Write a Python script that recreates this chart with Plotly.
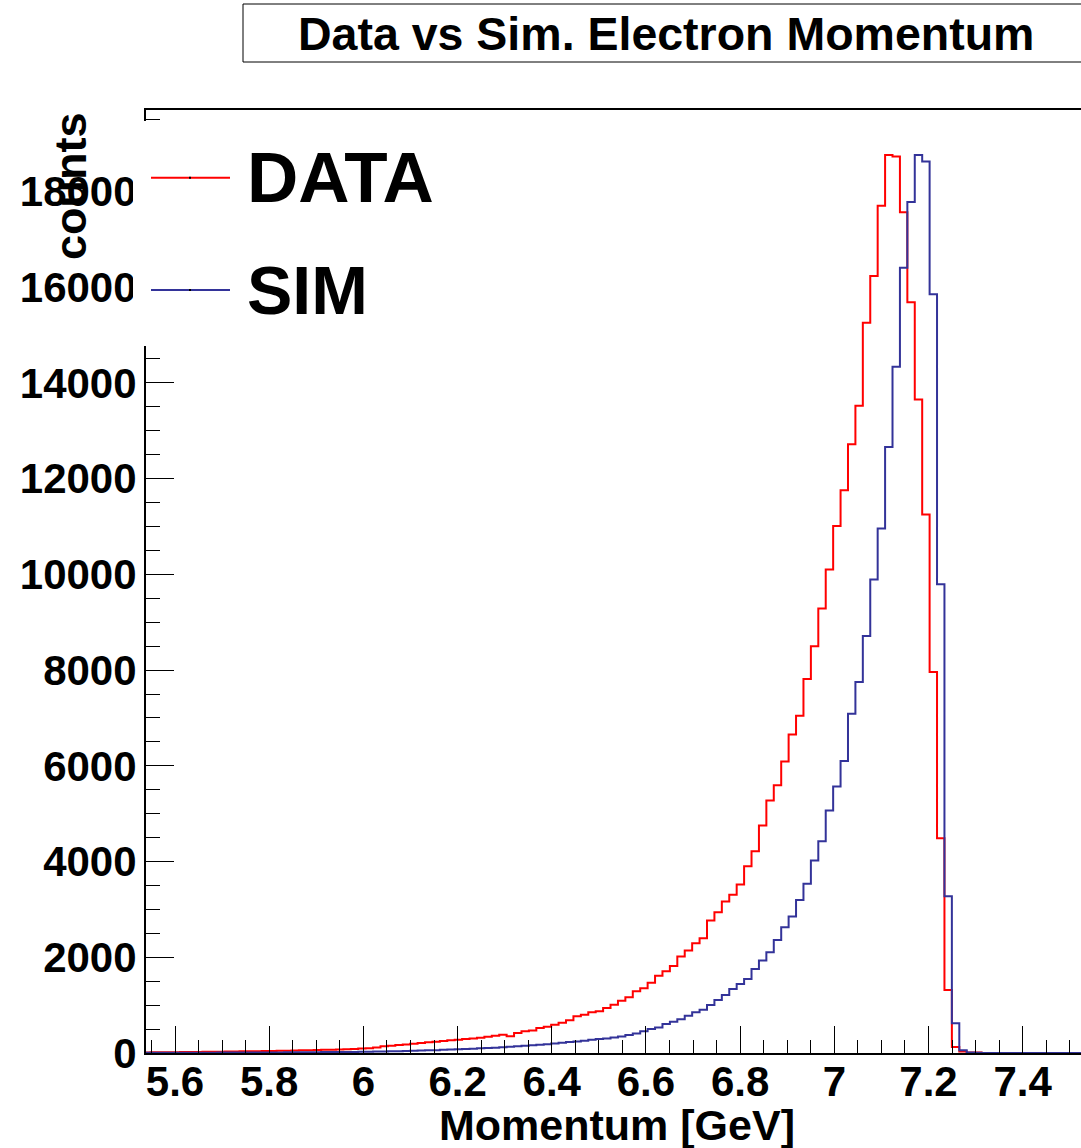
import plotly.graph_objects as go

# ---------------- data ----------------
BIN_START = 5.5321      # GeV, left edge of first bin
BIN_WIDTH = 0.015757    # GeV

data_counts = [
    12, 14, 15, 16, 18, 19, 20, 22, 24, 26, 28,
    30, 32, 34, 36, 38, 40, 43, 46, 49, 52, 55, 58, 62,
    66, 70, 75, 80, 86, 92, 100, 115,
    139, 150, 165, 180, 195, 210, 223, 235, 250, 265, 279, 290, 305, 320, 340,
    360, 383, 348, 418, 453, 470, 523, 550, 592, 630, 683, 767, 801, 850, 870, 940,
    1010, 1094, 1163, 1288, 1351, 1470, 1616, 1706, 1819, 2014, 2139, 2292, 2397,
    2766, 2940, 3164, 3304, 3519, 3902, 4216, 4753, 5276, 5596, 6091, 6656, 7047,
    7812, 8496, 9284, 10100, 11011, 11758, 12720, 13521, 15256, 16233, 17703,
    18763, 18727, 17564, 15683, 13654, 11250, 7958, 4487, 1317, 125, 30, 12, 8,
    0, 0, 0, 0, 0, 0, 0, 0, 0, 0, 0, 0, 0, 0,
]

sim_counts = [
    4, 4, 5, 5, 5, 6, 6, 6, 7, 7, 8, 8, 9, 9, 10, 10, 11, 12, 13,
    14, 15, 16, 17, 18, 19, 20, 21, 22, 23, 25,
    27, 29, 32, 35, 38, 42, 46, 50, 55, 60,
    66, 72, 78, 84, 90, 97, 104, 112, 120, 130,
    140, 150, 160, 172, 185, 198, 212, 228, 242, 258,
    275, 293, 305, 326, 347, 376, 410, 452, 502,
    535, 606, 654, 703, 780, 849, 905, 1004, 1108, 1213,
    1338, 1443, 1547, 1756, 1930, 2104, 2363, 2626, 2850, 3199,
    3534, 4021, 4425, 5066, 5568, 6098, 7088, 7749, 8711, 9890,
    10957, 12663, 14336, 16406, 17780, 18763, 18623, 15850, 9792, 3275,
    619, 55, 8, 3,
    0, 0, 0, 0, 0, 0, 0, 0, 0, 0, 0, 0, 0, 0,
]

x_tick_vals = [5.6, 5.8, 6.0, 6.2, 6.4, 6.6, 6.8, 7.0, 7.2, 7.4]
x_tick_text = ["5.6", "5.8", "6", "6.2", "6.4", "6.6", "6.8", "7", "7.2", "7.4"]
y_tick_vals = [0, 2000, 4000, 6000, 8000, 10000, 12000, 14000, 16000, 18000]
y_tick_text = [str(v) for v in y_tick_vals]

series_names = ["DATA", "SIM"]
series_colors = ["#ff0000", "#333399"]

assert len(data_counts) == len(sim_counts)

# ---------------- geometry helpers ----------------
W, H = 1081, 1148
L, T, B = 146, 110, 95
PW = W - L
PH = H - T - B


def px(xp):
    return (xp - L) / PW


def py(yp):
    return (H - B - yp) / PH


edges = [BIN_START + BIN_WIDTH * i for i in range(len(data_counts) + 1)]


def step_y(c):
    return list(c) + [c[-1]]


FONT = "Liberation Sans"

fig = go.Figure()
for name, counts, col in zip(series_names, [data_counts, sim_counts], series_colors):
    fig.add_trace(go.Scatter(
        x=edges, y=step_y(counts), mode="lines", name=name,
        line=dict(color=col, width=2, shape="hv"), showlegend=False,
        hoverinfo="skip",
    ))

fig.update_layout(
    width=W, height=H,
    margin=dict(l=L, r=0, t=T, b=B, pad=0),
    paper_bgcolor="white", plot_bgcolor="white",
    showlegend=False,
    xaxis=dict(
        range=[5.5384, 7.5238], showline=True, linewidth=2, linecolor="black",
        mirror=True, ticks="inside", ticklen=27, tickwidth=1, tickcolor="black",
        tickmode="array", tickvals=x_tick_vals, ticktext=x_tick_text,
        tickfont=dict(family=FONT, size=42, color="black", weight="bold"),
        minor=dict(ticks="inside", ticklen=13, tickwidth=1, tickcolor="black",
                   tick0=5.6, dtick=0.05),
        showgrid=False, zeroline=False, ticklabelstandoff=-9,
    ),
    yaxis=dict(
        range=[0, 19701], showline=True, linewidth=2, linecolor="black",
        mirror=False, ticks="inside", ticklen=28, tickwidth=1, tickcolor="black",
        tickmode="array", tickvals=y_tick_vals, ticktext=y_tick_text,
        tickfont=dict(family=FONT, size=42, color="black", weight="bold"),
        minor=dict(ticks="inside", ticklen=14, tickwidth=1, tickcolor="black",
                   tick0=0, dtick=500),
        showgrid=False, zeroline=False, ticklabelstandoff=-1,
    ),
)

shapes = [
    # title box
    dict(type="rect", xref="paper", yref="paper", x0=px(243), x1=px(1110),
         y0=py(62), y1=py(4), line=dict(color="black", width=1),
         fillcolor="white", layer="above"),
    # legend background (white, no border)
    dict(type="rect", xref="paper", yref="paper", x0=px(133), x1=px(450),
         y0=py(346), y1=py(121), line=dict(width=0),
         fillcolor="white", layer="above"),
]
leg_y = [177.7, 290]
for yy, col in zip(leg_y, series_colors):
    shapes.append(dict(type="line", xref="paper", yref="paper", x0=px(151), x1=px(230),
                       y0=py(yy), y1=py(yy), line=dict(color=col, width=2), layer="above"))
    shapes.append(dict(type="rect", xref="paper", yref="paper", x0=px(189), x1=px(191),
                       y0=py(yy + 1), y1=py(yy - 1), line=dict(width=0),
                       fillcolor="black", layer="above"))
fig.update_layout(shapes=shapes)

ann = [
    dict(text="Data vs Sim. Electron Momentum", x=px(666), y=py(34),
         font=dict(family=FONT, size=46.5, color="black", weight="bold")),
    dict(text="Momentum [GeV]", x=px(617), y=py(1125),
         font=dict(family=FONT, size=43, color="black", weight="bold")),
    dict(text="counts", x=px(70), y=py(110), yanchor="top", textangle=-90,
         font=dict(family=FONT, size=45, color="black", weight="bold")),
    dict(text=series_names[0], x=px(245), y=py(177.5), xanchor="left",
         font=dict(family=FONT, size=71, color="black", weight="bold")),
    dict(text=series_names[1], x=px(245), y=py(290), xanchor="left",
         font=dict(family=FONT, size=68, color="black", weight="bold")),
]
for a in ann:
    a.setdefault("xanchor", "center")
    a.setdefault("yanchor", "middle")
    a.update(xref="paper", yref="paper", showarrow=False)
fig.update_layout(annotations=ann)

fig.write_html("out.html")
